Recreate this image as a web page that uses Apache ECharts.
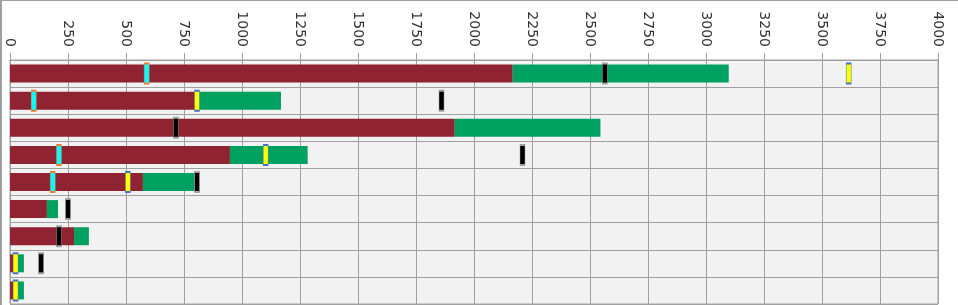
<!DOCTYPE html>
<html>
<head>
<meta charset="utf-8">
<script src="https://cdn.jsdelivr.net/npm/echarts@6/dist/echarts.min.js"></script>
<style>
html,body{margin:0;padding:0;background:#fff;}
#chart{width:958px;height:305px;}
</style>
</head>
<body>
<div id="chart"></div>
<script>
var categories = ['R1','R2','R3','R4','R5','R6','R7','R8','R9'];
var redValues = [2167, 810, 1917, 948, 573, 159, 276, 28, 28];
var greenValues = [931, 358, 628, 335, 221, 48, 64, 32, 32];
var cyanMarkers = [589, 102, null, 211, 184, null, null, null, null];
var yellowMarkers = [3615, 806, null, 1102, 508, null, null, 24, 24];
var blackMarkers = [2564, 1860, 715, 2209, 806, 250, 211, 134, null];
var xTickMin = 0, xTickMax = 4000, xTickStep = 250;

function toPoints(arr){
  var out = [];
  arr.forEach(function(v,i){ if(v !== null) out.push([v, categories[i]]); });
  return out;
}
function markerSeries(arr, fill, border){
  return {
    type:'scatter', data: toPoints(arr), symbol:'rect', symbolSize:[5,20],
    itemStyle:{color:fill, borderColor:border, borderWidth:1, opacity:1},
    z:5, silent:true
  };
}

var chart = echarts.init(document.getElementById('chart'));
chart.setOption({
  animation:false,
  graphic:[
    {type:'rect', shape:{x:0,y:0,width:958,height:1}, style:{fill:'#a0a0a0'}},
    {type:'rect', shape:{x:0,y:0,width:2,height:305}, style:{fill:'#a0a0a0'}}
  ],
  grid:{left:10, right:20, top:60, bottom:1, show:true, backgroundColor:'#f2f2f2', borderColor:'#a0a0a0', borderWidth:1, containLabel:false},
  xAxis:{
    type:'value', position:'top', min:xTickMin, max:xTickMax, interval:xTickStep,
    axisLine:{show:true, lineStyle:{color:'#a0a0a0'}},
    axisTick:{show:true, length:7, lineStyle:{color:'#a0a0a0'}},
    axisLabel:{rotate:90, margin:13, color:'#333', fontFamily:'DejaVu Sans', fontSize:14,
      formatter:function(v){ return String(v); }},
    splitLine:{show:true, lineStyle:{color:'#a0a0a0', width:1}}
  },
  yAxis:{
    type:'category', data:categories, inverse:true,
    axisLine:{show:true, lineStyle:{color:'#a0a0a0'}},
    axisTick:{show:false},
    axisLabel:{show:false},
    splitLine:{show:true, interval:0, lineStyle:{color:'#a0a0a0', width:1}}
  },
  series:[
    {type:'bar', stack:'total', data:redValues, barWidth:18, itemStyle:{color:'#8f2332'}},
    {type:'bar', stack:'total', data:greenValues, barWidth:18, itemStyle:{color:'#00a060'}},
    markerSeries(cyanMarkers, '#00ffff', '#ed7d31'),
    markerSeries(yellowMarkers, '#ffff00', '#4472c4'),
    markerSeries(blackMarkers, '#000000', '#a0a0a0')
  ]
});
</script>
</body>
</html>
